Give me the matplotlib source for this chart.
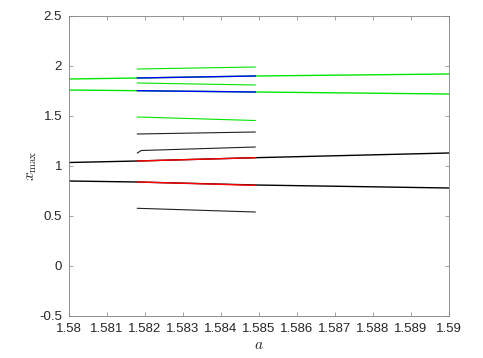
import matplotlib
matplotlib.use("Agg")
import matplotlib.pyplot as plt

plt.rcParams['font.family'] = ['Liberation Sans', 'DejaVu Sans']
plt.rcParams['mathtext.fontset'] = 'cm'

# Period-1 branches over the whole range (a, x_max)
a_full = [1.58, 1.5818, 1.5849, 1.59]
green_top = [1.87, 1.88, 1.90, 1.92]
green_low = [1.76, 1.753, 1.74, 1.72]
black_top = [1.035, 1.05, 1.083, 1.13]
black_low = [0.85, 0.84, 0.81, 0.78]

# Period-doubled window
a_mid = [1.5818, 1.5849]
blue_top = [1.88, 1.90]
blue_low = [1.753, 1.74]
red_top = [1.05, 1.083]
red_low = [0.84, 0.807]
green_extra1 = [1.97, 1.99]
green_extra2 = [1.83, 1.81]
green_extra3 = [1.49, 1.455]
black_extra1 = [1.32, 1.34]
black_extra3 = [0.577, 0.54]
a_mid_b = [1.5818, 1.5819, 1.5849]
black_extra2 = [1.13, 1.155, 1.19]

xticks = [1.58, 1.581, 1.582, 1.583, 1.584, 1.585, 1.586, 1.587, 1.588, 1.589, 1.59]
xticklabels = ['1.58', '1.581', '1.582', '1.583', '1.584', '1.585', '1.586', '1.587', '1.588', '1.589', '1.59']
yticks = [-0.5, 0, 0.5, 1, 1.5, 2, 2.5]
yticklabels = ['-0.5', '0', '0.5', '1', '1.5', '2', '2.5']

G = '#00e600'
fig = plt.figure(figsize=(4.83, 3.58), dpi=100)
ax = fig.add_axes([69/483, 42/358, 380/483, 300/358])

lw = 1.0
ax.plot(a_full, green_top, color=G, lw=lw)
ax.plot(a_full, green_low, color=G, lw=lw)
ax.plot(a_full, black_top, color='black', lw=lw)
ax.plot(a_full, black_low, color='black', lw=lw)
ax.plot(a_mid, blue_top, color='#0000ff', lw=lw)
ax.plot(a_mid, blue_low, color='#0000ff', lw=lw)
ax.plot(a_mid, red_top, color='#ff0000', lw=lw)
ax.plot(a_mid, red_low, color='#ff0000', lw=lw)
ax.plot(a_mid, green_extra1, color=G, lw=0.8)
ax.plot(a_mid, green_extra2, color=G, lw=0.8)
ax.plot(a_mid, green_extra3, color=G, lw=0.8)
ax.plot(a_mid, black_extra1, color='#222222', lw=0.8)
ax.plot(a_mid_b, black_extra2, color='#222222', lw=0.8)
ax.plot(a_mid, black_extra3, color='#222222', lw=0.8)

ax.set_xlim(1.58, 1.59)
ax.set_ylim(-0.5, 2.5)
ax.set_xticks(xticks)
ax.set_xticklabels(xticklabels)
ax.set_yticks(yticks)
ax.set_yticklabels(yticklabels)
ax.tick_params(direction='in', length=3, width=0.5, colors='#808080', labelcolor='#262626',
               labelsize=9.5, top=True, right=True)
ax.tick_params(axis='x', pad=5)
ax.tick_params(axis='y', pad=5)
for s in ax.spines.values():
    s.set_color('#808080')
    s.set_linewidth(0.6)
ax.set_xlabel('$a$', fontsize=11, color='#262626', labelpad=2)
ax.set_ylabel(r'$x_{\max}$', fontsize=11, color='#262626', labelpad=0)

fig.savefig('out.png', dpi=100)
